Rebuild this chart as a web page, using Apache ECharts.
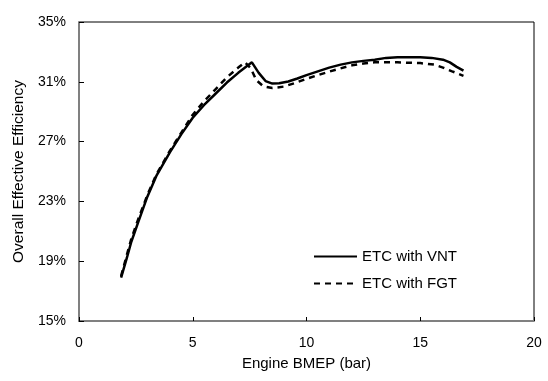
<!DOCTYPE html>
<html>
<head>
<meta charset="utf-8">
<script src="https://cdn.jsdelivr.net/npm/echarts@6/dist/echarts.min.js"></script>
<style>html,body{margin:0;padding:0;background:#fff;}#c{width:548px;height:381px;}</style>
</head>
<body>
<div id="c"></div>
<script>
var xTicks = [0, 5, 10, 15, 20];
var yTickLabels = ['15%', '19%', '23%', '27%', '31%', '35%'];
var vntX = [1.85, 2.1, 2.3, 2.6, 3.0, 3.4, 4.0, 4.5, 5.0, 5.5, 6.0, 6.5, 7.0, 7.6, 7.9, 8.2, 8.5, 8.8, 9.2, 9.6, 10, 10.5, 11, 11.5, 12, 12.5, 13, 13.5, 14, 14.5, 15, 15.5, 16, 16.3, 16.6, 16.9];
var vntY = [17.9, 19.2, 20.3, 21.6, 23.3, 24.7, 26.3, 27.5, 28.6, 29.45, 30.2, 30.95, 31.6, 32.3, 31.6, 31.05, 30.88, 30.9, 31.02, 31.22, 31.45, 31.7, 31.95, 32.15, 32.3, 32.4, 32.48, 32.6, 32.65, 32.65, 32.64, 32.6, 32.48, 32.3, 32.0, 31.75];
var fgtX = [1.85, 2.1, 2.3, 2.6, 3.0, 3.4, 4.0, 4.5, 5.0, 5.5, 6.0, 6.5, 7.0, 7.3, 7.55, 7.8, 8.1, 8.5, 9.0, 9.5, 10, 10.5, 11, 11.5, 12, 12.5, 13, 14, 15, 15.6, 16.0, 16.4, 16.9];
var fgtY = [18.0, 19.4, 20.5, 21.8, 23.4, 24.8, 26.4, 27.6, 28.8, 29.7, 30.5, 31.3, 31.95, 32.3, 31.9, 31.1, 30.7, 30.58, 30.68, 30.92, 31.2, 31.45, 31.68, 31.9, 32.1, 32.22, 32.3, 32.3, 32.25, 32.15, 31.95, 31.7, 31.4];
var seriesNames = ['ETC with VNT', 'ETC with FGT'];

var yBase = 15; // axis origin, ticks every 4%
function pairs(xs, ys) { return xs.map(function (x, i) { return [x, ys[i] - yBase]; }); }

var font = 'Liberation Sans, Arial, sans-serif';
var chart = echarts.init(document.getElementById('c'));
chart.setOption({
  animation: false,
  backgroundColor: '#fff',
  grid: { left: 79, right: 14, top: 22, bottom: 60, show: true, borderColor: '#000', borderWidth: 1 },
  legend: {
    orient: 'vertical', left: 308, top: 244, itemWidth: 43, itemHeight: 14, itemGap: 12,
    itemStyle: { opacity: 0 },
    textStyle: { fontFamily: font, fontSize: 15, color: '#000' },
    data: seriesNames
  },
  xAxis: {
    type: 'value', min: xTicks[0], max: xTicks[xTicks.length - 1], interval: xTicks[1] - xTicks[0],
    name: 'Engine BMEP (bar)', nameLocation: 'middle', nameGap: 35,
    nameTextStyle: { fontFamily: font, fontSize: 15, color: '#000' },
    axisLine: { lineStyle: { color: '#808080', width: 2 } },
    axisTick: { inside: true, length: 4, lineStyle: { color: '#000' } },
    axisLabel: { fontFamily: font, fontSize: 14, color: '#000', margin: 15 },
    splitLine: { show: false }
  },
  yAxis: {
    type: 'value', min: 0, max: 20, interval: 4,
    name: 'Overall Effective Efficiency', nameLocation: 'middle', nameGap: 52,
    nameTextStyle: { fontFamily: font, fontSize: 15.5, color: '#000' },
    axisLine: { show: true, lineStyle: { color: '#808080', width: 2 } },
    axisTick: { show: true, inside: true, length: 5, lineStyle: { color: '#000' } },
    axisLabel: { fontFamily: font, fontSize: 14, color: '#000', margin: 13,
      formatter: function (v) { return yTickLabels[Math.round(v / 4)]; } },
    splitLine: { show: false }
  },
  series: [
    { name: seriesNames[0], type: 'line', data: pairs(vntX, vntY), symbol: 'none', smooth: false,
      lineStyle: { color: '#000', width: 2.5 }, itemStyle: { color: '#000' } },
    { name: seriesNames[1], type: 'line', data: pairs(fgtX, fgtY), symbol: 'none', smooth: false,
      lineStyle: { color: '#000', width: 2.5, type: [6, 5] }, itemStyle: { color: '#000' } }
  ]
});
</script>
</body>
</html>
